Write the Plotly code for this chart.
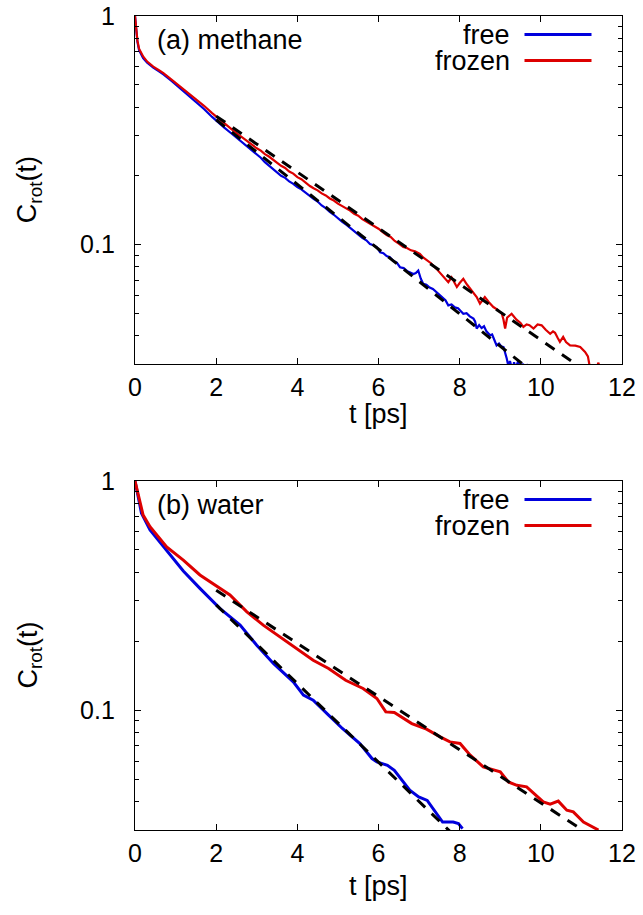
import math
import plotly.graph_objects as go

# ---------------- data ----------------
# (a) methane
meth_free_t = [0, 0.03, 0.06, 0.1, 0.2, 0.3, 0.45, 0.6, 0.7, 0.9, 1.11, 1.3, 1.52, 1.7, 1.9, 2.09,
               2.2, 2.4, 2.6, 2.75, 2.9, 3.0, 3.1, 3.2, 3.3, 3.4, 3.49, 3.6, 3.7, 3.8, 3.9, 4.0, 4.1,
               4.2, 4.31, 4.4, 4.5, 4.6, 4.7, 4.8, 4.9, 5.0, 5.1, 5.22, 5.3, 5.4, 5.5, 5.6, 5.7, 5.79,
               5.88, 5.96, 6.04, 6.12, 6.2, 6.28, 6.36, 6.45, 6.53, 6.62, 6.7, 6.78, 6.86, 6.92, 6.98,
               7.04, 7.1, 7.18, 7.26, 7.34, 7.43, 7.5, 7.58, 7.65, 7.72, 7.8, 7.88, 7.96, 8.03, 8.09,
               8.17, 8.25, 8.34, 8.38, 8.42, 8.48, 8.54, 8.6, 8.66, 8.75, 8.8, 8.85, 8.91, 8.97, 9.02,
               9.08, 9.12, 9.16, 9.2, 9.24, 9.3, 9.34, 9.38, 9.44, 9.5, 9.56, 9.6, 9.66, 9.72, 9.78]
meth_free_c = [1.0, 0.85, 0.77, 0.71, 0.655, 0.625, 0.595, 0.572, 0.556, 0.52, 0.483, 0.452, 0.418,
               0.392, 0.362, 0.337, 0.325, 0.304, 0.284, 0.270, 0.257, 0.2467, 0.240, 0.2296, 0.222,
               0.2134, 0.2066, 0.2002, 0.196, 0.189, 0.1845, 0.1785, 0.1745, 0.1686, 0.1634, 0.1586,
               0.1545, 0.1485, 0.1445, 0.139, 0.1352, 0.1301, 0.1262, 0.1217, 0.1185, 0.1142, 0.1115,
               0.1071, 0.1045, 0.1007, 0.0995, 0.0975, 0.0927, 0.0918, 0.0892, 0.0881, 0.0850, 0.0835,
               0.0797, 0.0790, 0.0768, 0.0758, 0.0745, 0.0752, 0.0771, 0.0712, 0.0675, 0.0668, 0.0650,
               0.0640, 0.0620, 0.0605, 0.0585, 0.0572, 0.0543, 0.0548, 0.0532, 0.0528, 0.0512, 0.0499,
               0.0502, 0.0486, 0.0475, 0.0462, 0.0430, 0.0445, 0.0432, 0.0440, 0.0418, 0.0402, 0.0405,
               0.0385, 0.0363, 0.0370, 0.0360, 0.0357, 0.0340, 0.0318, 0.0295, 0.0310, 0.0282, 0.0306,
               0.0288, 0.0310, 0.0285, 0.0302, 0.0280, 0.0300, 0.0284, 0.0290]
meth_frozen_t = [0, 0.03, 0.06, 0.1, 0.2, 0.3, 0.45, 0.6, 0.7, 0.9, 1.11, 1.3, 1.52, 1.7, 1.9, 2.09,
                 2.2, 2.4, 2.6, 2.75, 2.9, 3.0, 3.1, 3.2, 3.3, 3.4, 3.49, 3.6, 3.7, 3.8, 3.9, 4.0, 4.1,
                 4.2, 4.31, 4.4, 4.5, 4.6, 4.7, 4.8, 4.9, 5.0, 5.1, 5.22, 5.3, 5.4, 5.5, 5.6, 5.7, 5.8,
                 5.9, 6.0, 6.12, 6.2, 6.3, 6.4, 6.5, 6.61, 6.7, 6.8, 6.9, 7.02, 7.1, 7.2, 7.3, 7.43,
                 7.55, 7.65, 7.72, 7.8, 7.86, 7.93, 8.0, 8.09, 8.18, 8.26, 8.34, 8.42, 8.5, 8.56, 8.62,
                 8.72, 8.83, 8.93, 9.04, 9.08, 9.12, 9.17, 9.28, 9.4, 9.5, 9.57, 9.65, 9.72, 9.82, 9.92,
                 10.02, 10.12, 10.23, 10.3, 10.35, 10.42, 10.47, 10.55, 10.62, 10.72, 10.85, 10.97,
                 11.09, 11.16, 11.21, 11.3, 11.36, 11.42, 11.5]
meth_frozen_c = [1.0, 0.86, 0.78, 0.72, 0.665, 0.632, 0.601, 0.578, 0.563, 0.527, 0.492, 0.462, 0.431,
                 0.405, 0.376, 0.352, 0.340, 0.318, 0.298, 0.284, 0.272, 0.264, 0.258, 0.249, 0.243,
                 0.235, 0.2285, 0.2214, 0.2165, 0.209, 0.2045, 0.1974, 0.1935, 0.1865, 0.1806, 0.1765,
                 0.1728, 0.1676, 0.1642, 0.1593, 0.1560, 0.1513, 0.1478, 0.1435, 0.1410, 0.1364, 0.1340,
                 0.1294, 0.1262, 0.1230, 0.1205, 0.1175, 0.1130, 0.1103, 0.1082, 0.1039, 0.1012, 0.0977,
                 0.0968, 0.0945, 0.0935, 0.0911, 0.0880, 0.0853, 0.0828, 0.0784, 0.0740, 0.0712, 0.0686,
                 0.0720, 0.0690, 0.0653, 0.0680, 0.0709, 0.0670, 0.0642, 0.0620, 0.0590, 0.0552, 0.0570,
                 0.0590, 0.0560, 0.0534, 0.0520, 0.0499, 0.0470, 0.0430, 0.0480, 0.0499, 0.0470, 0.0455,
                 0.0437, 0.0448, 0.0445, 0.0430, 0.0448, 0.0444, 0.0425, 0.0408, 0.0418, 0.0412, 0.0390,
                 0.0376, 0.0395, 0.0375, 0.0363, 0.0362, 0.0357, 0.0340, 0.0325, 0.0290, 0.0270, 0.0285,
                 0.0305, 0.0260]

# (b) water
water_free_t = [0, 0.16, 0.37, 0.78, 1.0, 1.19, 1.6, 2.09, 2.59, 3.0, 3.41, 3.9, 4.15, 4.39, 4.77,
                5.11, 5.54, 5.84, 5.96, 6.22, 6.39, 6.77, 6.99, 7.2, 7.58, 7.84, 7.97, 8.07]
water_free_c = [1.0, 0.723, 0.611, 0.50, 0.447, 0.405, 0.34, 0.278, 0.235, 0.192, 0.160, 0.133,
                0.1163, 0.1106, 0.0951, 0.0832, 0.0715, 0.0615, 0.0595, 0.0575, 0.0547, 0.0448, 0.0418,
                0.0404, 0.0325, 0.0325, 0.0320, 0.0304]
water_frozen_t = [0, 0.2, 0.37, 0.78, 1.19, 1.6, 2.34, 2.75, 3.16, 3.57, 3.98, 4.39, 4.77, 5.19,
                  5.62, 5.96, 6.18, 6.39, 6.82, 7.15, 7.52, 7.76, 8.01, 8.26, 8.58, 9.0, 9.2, 9.41,
                  9.65, 10.06, 10.23, 10.43, 10.64, 10.8, 11.05, 11.42]
water_frozen_c = [1.0, 0.71, 0.632, 0.516, 0.452, 0.389, 0.318, 0.269, 0.235, 0.209, 0.186, 0.165,
                  0.152, 0.135, 0.1244, 0.1125, 0.0983, 0.0977, 0.0874, 0.0832, 0.0765, 0.0727, 0.0716,
                  0.0636, 0.0566, 0.0538, 0.0486, 0.0470, 0.0463, 0.0398, 0.0389, 0.0401, 0.0366, 0.0360,
                  0.0325, 0.0300]

# exponential fits (straight on the log axis): end points
fit_meth_free_t = [2.0, 10.0]
fit_meth_free_c = [0.352, 0.026]
fit_meth_frozen_t = [2.0, 11.5]
fit_meth_frozen_c = [0.365, 0.0251]
fit_water_free_t = [2.0, 8.5]
fit_water_free_c = [0.288, 0.0221]
fit_water_frozen_t = [2.0, 11.5]
fit_water_frozen_c = [0.3337, 0.0264]

panel_titles = ["(a) methane", "(b) water"]
series_names = ["free", "frozen"]
x_ticks = [0, 2, 4, 6, 8, 10, 12]
y_ticks = [0.1, 1]
y_tick_text = ["0.1", "1"]
y_minor = [0.03, 0.04, 0.05, 0.06, 0.07, 0.08, 0.09, 0.2, 0.3, 0.4, 0.5, 0.6, 0.7, 0.8, 0.9]

# ---------------- styling ----------------
W, H = 643, 915
ML, MR, MT, MB = 135, 21, 16, 85
PW, PH = W - ML - MR, H - MT - MB
BLUE = "#0000dd"
RED = "#dd0000"
FONT = "Liberation Sans, Arial, Helvetica, sans-serif"
TXT = 27


def fx(px):
    return (px - ML) / PW


def fy(py):
    return (H - MB - py) / PH


top_dom = [fy(364.3), 1.0]
bot_dom = [0.0, fy(481)]

fig = go.Figure()

panels = [
    ("x", "y", meth_free_t, meth_free_c, meth_frozen_t, meth_frozen_c,
     fit_meth_free_t, fit_meth_free_c, fit_meth_frozen_t, fit_meth_frozen_c, 2.2),
    ("x2", "y2", water_free_t, water_free_c, water_frozen_t, water_frozen_c,
     fit_water_free_t, fit_water_free_c, fit_water_frozen_t, fit_water_frozen_c, 3.0),
]
for xa, ya, ft, fc, rt, rc, aft, afc, art, arc, lw in panels:
    fig.add_trace(go.Scatter(x=ft, y=fc, xaxis=xa, yaxis=ya, mode="lines",
                             line=dict(color=BLUE, width=lw), showlegend=False))
    fig.add_trace(go.Scatter(x=rt, y=rc, xaxis=xa, yaxis=ya, mode="lines",
                             line=dict(color=RED, width=lw), showlegend=False))
    for tt, cc in ((aft, afc), (art, arc)):
        fig.add_trace(go.Scatter(x=tt, y=cc, xaxis=xa, yaxis=ya, mode="lines",
                                 line=dict(color="black", width=3, dash="11px,9px"),
                                 showlegend=False))

common_x = dict(range=[0, 12], tickvals=x_ticks, ticks="inside", ticklen=6, tickwidth=1.2,
                tickcolor="black", showline=True, linecolor="black", linewidth=1.3,
                mirror="ticks", showgrid=False, zeroline=False, automargin=False,
                tickfont=dict(family=FONT, size=25, color="black"), ticklabelstandoff=1)
common_y = dict(type="log", range=[math.log10(0.03), 0], tickvals=y_ticks, ticktext=y_tick_text,
                ticks="inside", ticklen=6, tickwidth=1.2, tickcolor="black", showline=True,
                linecolor="black", linewidth=1.3, mirror="ticks", showgrid=False, zeroline=False,
                automargin=False,
                tickfont=dict(family=FONT, size=25, color="black"), ticklabelstandoff=14,
                minor=dict(tickvals=y_minor, ticks="inside", ticklen=3.5, tickwidth=1.1,
                           tickcolor="black", showgrid=False))

fig.update_layout(
    template="none",
    width=W, height=H, margin=dict(l=ML, r=MR, t=MT, b=MB, autoexpand=False),
    paper_bgcolor="white", plot_bgcolor="white",
    font=dict(family=FONT, size=TXT, color="black"),
    xaxis=dict(domain=[0, 1], anchor="y", **common_x),
    yaxis=dict(domain=top_dom, anchor="x", **common_y),
    xaxis2=dict(domain=[0, 1], anchor="y2", **common_x),
    yaxis2=dict(domain=bot_dom, anchor="x2", **common_y),
)

ann = []
shapes = []
# panel layout in pixels: (top of frame, bottom of frame, x-title offset)
frames = [(16, 364.3, 50), (481, 830, 56)]
for i, (top, bottom, xoff) in enumerate(frames):
    ann.append(dict(text=panel_titles[i], x=fx(155), y=fy(top + 24), xref="paper", yref="paper",
                    xanchor="left", yanchor="middle", showarrow=False, font=dict(size=TXT)))
    for j, (name, col) in enumerate(zip(series_names, [BLUE, RED])):
        yy = top + 18.5 + 26 * j
        ann.append(dict(text=name, x=fx(512), y=fy(yy), xref="paper", yref="paper",
                        xanchor="right", yanchor="middle", showarrow=False, height=25,
                        font=dict(size=TXT)))
        shapes.append(dict(type="line", xref="paper", yref="paper", x0=fx(524.5), x1=fx(591.5),
                           y0=fy(yy), y1=fy(yy), line=dict(color=col, width=3)))
    ann.append(dict(text="C<sub>rot</sub>(t)", x=fx(29), y=fy((top + bottom) / 2), xref="paper",
                    yref="paper", xanchor="center", yanchor="middle", textangle=-90,
                    showarrow=False, font=dict(size=TXT)))
    ann.append(dict(text="t [ps]", x=fx(378.5), y=fy(bottom + xoff), xref="paper", yref="paper",
                    xanchor="center", yanchor="middle", showarrow=False, font=dict(size=TXT)))

fig.update_layout(annotations=ann, shapes=shapes)
fig.write_html("out.html")
